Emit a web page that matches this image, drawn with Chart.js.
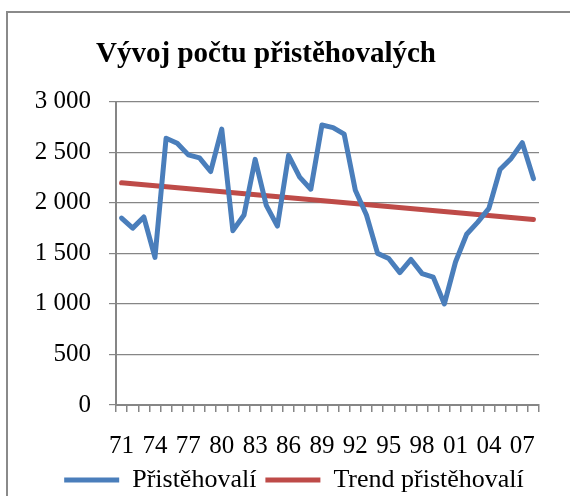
<!DOCTYPE html>
<html>
<head>
<meta charset="utf-8">
<script src="https://cdn.jsdelivr.net/npm/chart.js@4/dist/chart.umd.min.js"></script>
<style>
  html, body { margin: 0; padding: 0; background: #fff; overflow: hidden; }
  #frame { position: absolute; left: 6px; top: 11px; width: 700px; height: 600px; border: 2px solid #8a8a8a; }
  #wrap { position: absolute; left: 0; top: 0; width: 570px; height: 496px; }
</style>
</head>
<body>
<div id="frame"></div>
<div id="wrap"><canvas id="chart" width="570" height="496"></canvas></div>
<script>
// years 1971 - 2008
const years = ['71', '72', '73', '74', '75', '76', '77', '78', '79', '80',
               '81', '82', '83', '84', '85', '86', '87', '88', '89', '90',
               '91', '92', '93', '94', '95', '96', '97', '98', '99', '00',
               '01', '02', '03', '04', '05', '06', '07', '08'];

const immigrants = [1850, 1750, 1860, 1460, 2640, 2590, 2475, 2445, 2310, 2730,
                    1725, 1880, 2430, 1975, 1770, 2470, 2255, 2135, 2770, 2745,
                    2680, 2125, 1880, 1500, 1450, 1310, 1440, 1300, 1265, 1000,
                    1415, 1690, 1810, 1945, 2330, 2440, 2595, 2240];

// linear trend, read at its two ends
const trendStart = 2198;
const trendEnd = 1836;

const yTicks = [0, 500, 1000, 1500, 2000, 2500, 3000];

const gridColor = '#868686';
const serif = 'Liberation Serif';

function spaced(v) {
    return String(v).replace(/\B(?=(\d{3})+(?!\d))/g, ' ');
}

// title and legend are not centred on the canvas in the original
const nudge = {
    id: 'nudge',
    afterLayout(chart) {
        chart.titleBlock.left -= 13;
        chart.titleBlock.right -= 13;
        chart.legend.left += 15;
        chart.legend.right += 15;
    }
};

const ctx = document.getElementById('chart').getContext('2d');

new Chart(ctx, {
    type: 'line',
    data: {
        labels: years,
        datasets: [{
            label: 'Přistěhovalí',
            data: immigrants,
            borderColor: '#4a7ebb',
            backgroundColor: '#4a7ebb',
            borderWidth: 5,
            pointRadius: 0,
            tension: 0,
            borderJoinStyle: 'round',
            borderCapStyle: 'round',
            fill: false
        }, {
            label: 'Trend přistěhovalí',
            data: [{ x: years[0], y: trendStart }, { x: years[years.length - 1], y: trendEnd }],
            borderColor: '#be4b48',
            backgroundColor: '#be4b48',
            borderWidth: 5,
            pointRadius: 0,
            tension: 0,
            borderCapStyle: 'round',
            fill: false
        }]
    },
    plugins: [nudge],
    options: {
        responsive: false,
        animation: false,
        layout: {
            padding: { left: 19, right: 31, top: 6, bottom: 0 }
        },
        plugins: {
            tooltip: { enabled: false },
            title: {
                display: true,
                text: 'Vývoj počtu přistěhovalých',
                color: '#000',
                font: { family: serif, size: 29, weight: 'bold' },
                padding: { top: 31, bottom: 30 }
            },
            legend: {
                position: 'bottom',
                maxHeight: 38,
                labels: {
                    color: '#000',
                    font: { family: serif, size: 26 },
                    boxWidth: 55,
                    boxHeight: 5,
                    padding: 9,
                    generateLabels: (chart) => chart.data.datasets.map((ds, i) => ({
                        text: ds.label,
                        fillStyle: ds.borderColor,
                        strokeStyle: ds.borderColor,
                        lineWidth: 0,
                        datasetIndex: i
                    }))
                }
            }
        },
        scales: {
            x: {
                type: 'category',
                offset: true,
                afterFit: (scale) => { scale.height = 53; },
                grid: {
                    offset: true,
                    drawOnChartArea: false,
                    drawTicks: true,
                    tickLength: 7,
                    color: gridColor,
                    lineWidth: 1.5
                },
                border: { color: gridColor, width: 2 },
                ticks: {
                    autoSkip: false,
                    maxRotation: 0,
                    color: '#000',
                    padding: 27,
                    font: { family: serif, size: 25, lineHeight: 0.6 },
                    callback: (val, idx) => (idx % 3 === 0 ? years[idx] : '')
                }
            },
            y: {
                min: 0,
                max: 3000,
                afterFit: (scale) => { scale.width = 97; },
                afterBuildTicks: (axis) => { axis.ticks = yTicks.map(v => ({ value: v })); },
                grid: {
                    color: gridColor,
                    lineWidth: 1.2,
                    drawTicks: true,
                    tickLength: 7
                },
                border: { color: gridColor, width: 2 },
                ticks: {
                    color: '#000',
                    padding: 18,
                    font: { family: serif, size: 25 },
                    callback: (v) => spaced(v)
                }
            }
        }
    }
});
</script>
</body>
</html>
